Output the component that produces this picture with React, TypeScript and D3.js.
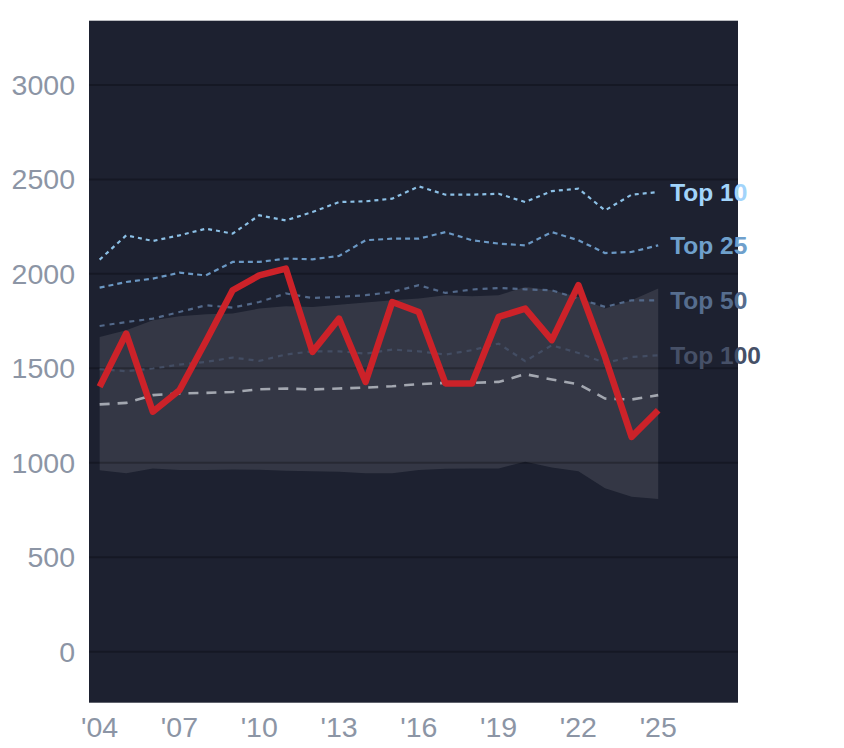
import * as d3 from "d3";
import { useEffect, useRef } from "react";

const years = d3.range(2004, 2026);
const xTickYears = [2004, 2007, 2010, 2013, 2016, 2019, 2022, 2025];
const yTicks = [0, 500, 1000, 1500, 2000, 2500, 3000];

const mainSeries = [1402, 1684, 1270, 1384, 1645, 1913, 1992, 2028, 1587, 1763, 1428, 1851, 1798, 1420, 1420, 1772, 1816, 1649, 1940, 1560, 1137, 1278];
const bandLow = [960, 945, 970, 962, 962, 965, 963, 958, 955, 952, 945, 945, 962, 968, 970, 970, 1005, 975, 955, 865, 820, 808];
const bandHigh = [1666, 1701, 1754, 1775, 1786, 1790, 1816, 1828, 1825, 1837, 1848, 1860, 1869, 1887, 1881, 1887, 1930, 1913, 1878, 1816, 1860, 1922];
const medianSeries = [1309, 1317, 1358, 1367, 1370, 1375, 1389, 1393, 1388, 1393, 1398, 1405, 1416, 1423, 1423, 1428, 1469, 1441, 1416, 1340, 1335, 1358];
const top10 = [2075, 2204, 2174, 2204, 2239, 2213, 2310, 2283, 2327, 2380, 2384, 2398, 2463, 2419, 2419, 2424, 2380, 2438, 2451, 2336, 2419, 2433];
const top25 = [1927, 1957, 1975, 2006, 1992, 2063, 2063, 2081, 2077, 2095, 2178, 2186, 2186, 2221, 2178, 2160, 2151, 2221, 2178, 2110, 2116, 2151];
const top50 = [1724, 1745, 1763, 1798, 1834, 1821, 1851, 1896, 1872, 1878, 1887, 1904, 1940, 1899, 1917, 1925, 1918, 1913, 1869, 1825, 1860, 1860];
const top100 = [1495, 1485, 1499, 1520, 1534, 1557, 1539, 1573, 1590, 1590, 1578, 1599, 1590, 1573, 1596, 1631, 1538, 1622, 1581, 1529, 1560, 1569];

const tierNames = ["Top 10", "Top 25", "Top 50", "Top 100"];
const tierSeries = [top10, top25, top50, top100];
const tierLine = ["#8cc0e6", "#6b98c4", "#53698a", "#434d63"];
const tierText = ["#a2d4fb", "#6fa0cc", "#566d8e", "#465067"];
const tierDash = ["4,4", "5,4", "5,5", "5,5"];

export default function App() {
  const ref = useRef<SVGSVGElement | null>(null);
  useEffect(() => {
    if (!ref.current) return;
    const svg = d3.select(ref.current);
    svg.selectAll("*").remove();
    const left = 89, right = 738, top = 20.7, bottom = 702.7;
    const x = d3.scaleLinear().domain([2003.6, 2028]).range([left, right]);
    const y = d3.scaleLinear().domain([-270, 3340]).range([bottom, top]);
    const font = "'Liberation Sans', Arial, sans-serif";

    svg.append("rect").attr("x", left).attr("y", top).attr("width", right - left).attr("height", bottom - top).attr("fill", "#1d2130");

    const area = d3
      .area<number>()
      .x((_, i) => x(years[i]))
      .y0((_, i) => y(bandLow[i]))
      .y1((d) => y(d));
    svg.append("path").attr("d", area(bandHigh) ?? "").attr("fill", "rgba(255,255,255,0.1)");

    svg
      .append("g")
      .selectAll("line")
      .data(yTicks)
      .join("line")
      .attr("x1", left)
      .attr("x2", right)
      .attr("y1", (d) => y(d))
      .attr("y2", (d) => y(d))
      .attr("stroke", "rgba(0,0,0,0.25)")
      .attr("stroke-width", 2);

    const line = d3
      .line<number>()
      .x((_, i) => x(years[i]))
      .y((d) => y(d));

    svg
      .append("path")
      .attr("d", line(medianSeries) ?? "")
      .attr("fill", "none")
      .attr("stroke", "#a3a7b0")
      .attr("stroke-width", 2.6)
      .attr("stroke-dasharray", "10,8");

    tierSeries.forEach((s, k) => {
      svg
        .append("path")
        .attr("d", line(s) ?? "")
        .attr("fill", "none")
        .attr("stroke", tierLine[k])
        .attr("stroke-width", 2.2)
        .attr("stroke-dasharray", tierDash[k]);
      svg
        .append("text")
        .attr("x", x(2025) + 12)
        .attr("y", y(s[s.length - 1]))
        .attr("dy", "0.35em")
        .attr("fill", tierText[k])
        .attr("font-family", font)
        .attr("font-weight", "bold")
        .attr("font-size", 24.5)
        .text(tierNames[k]);
    });

    svg
      .append("path")
      .attr("d", line(mainSeries) ?? "")
      .attr("fill", "none")
      .attr("stroke", "#cc2229")
      .attr("stroke-width", 6.5)
      .attr("stroke-linejoin", "round");

    svg
      .append("g")
      .selectAll("text")
      .data(yTicks)
      .join("text")
      .attr("x", 75)
      .attr("y", (d) => y(d))
      .attr("dy", "0.35em")
      .attr("text-anchor", "end")
      .attr("fill", "#8c95a5")
      .attr("font-family", font)
      .attr("font-size", 28.5)
      .text((d) => String(d));

    svg
      .append("g")
      .selectAll("text")
      .data(xTickYears)
      .join("text")
      .attr("x", (d) => x(d))
      .attr("y", 737)
      .attr("text-anchor", "middle")
      .attr("fill", "#8c95a5")
      .attr("font-family", font)
      .attr("font-size", 28.5)
      .text((d) => "'" + String(d).slice(2));
  }, []);
  return (
    <div style={{ position: "absolute", left: 0, top: 0 }}>
      <svg ref={ref} width={844} height={748} viewBox="0 0 844 748" style={{ display: "block", background: "#fff" }} />
    </div>
  );
}
